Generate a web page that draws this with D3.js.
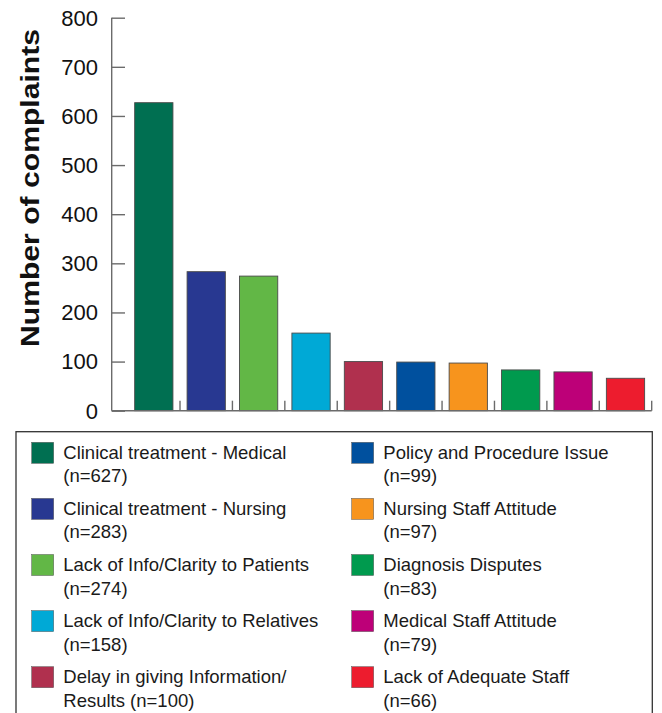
<!DOCTYPE html>
<html>
<head>
<meta charset="utf-8">
<script src="https://cdn.jsdelivr.net/npm/d3@7/dist/d3.min.js"></script>
<style>
  html, body { margin: 0; padding: 0; background: #fff; }
  svg { display: block; font-family: "Liberation Sans", Arial, Helvetica, sans-serif; }
</style>
</head>
<body>
<svg id="chart" width="662" height="713"></svg>
<script>
const categories = [
  "Clinical treatment - Medical",
  "Clinical treatment - Nursing",
  "Lack of Info/Clarity to Patients",
  "Lack of Info/Clarity to Relatives",
  "Delay in giving Information/Results",
  "Policy and Procedure Issue",
  "Nursing Staff Attitude",
  "Diagnosis Disputes",
  "Medical Staff Attitude",
  "Lack of Adequate Staff"
];
const values = [627, 283, 274, 158, 100, 99, 97, 83, 79, 66];
const colors = ["#006F51", "#283891", "#62B746", "#00A9D6", "#B0304E",
                "#00509E", "#F7941D", "#009A4E", "#BD0078", "#ED1C2E"];
const yTicks = [0, 100, 200, 300, 400, 500, 600, 700, 800];
const yTitle = "Number of complaints";

const svg = d3.select("#chart");

const x = d3.scaleBand().domain(categories).range([127.6, 651.7]).padding(0);
const y = d3.scaleLinear().domain([0, 800]).range([410.7, 17.7]);
const axisLeftX = 111.7;
const axisColor = "#6b6b6b";
const barW = x.bandwidth() * 0.73;

// bars
svg.append("g").selectAll("rect").data(categories).join("rect")
  .attr("x", d => x(d) + (x.bandwidth() - barW) / 2)
  .attr("y", (d, i) => y(values[i]))
  .attr("width", barW)
  .attr("height", (d, i) => y(0) - y(values[i]))
  .attr("fill", (d, i) => colors[i])
  .attr("stroke", "#4a4a4a")
  .attr("stroke-width", 0.9);

// y axis (ticks pointing inward)
const yAxis = d3.axisRight(y).tickValues(yTicks).tickSize(13.3).tickFormat("");
const gy = svg.append("g").attr("transform", `translate(${axisLeftX},0)`).call(yAxis);
gy.select(".domain").remove();
gy.selectAll(".tick line").attr("stroke", axisColor).attr("stroke-width", 1.4);
svg.append("line")
  .attr("x1", axisLeftX).attr("x2", axisLeftX)
  .attr("y1", y(800)).attr("y2", y(0))
  .attr("stroke", axisColor).attr("stroke-width", 1.4);
svg.append("g").selectAll("text").data(yTicks).join("text")
  .attr("x", 98)
  .attr("y", d => y(d))
  .attr("dy", "0.36em")
  .attr("text-anchor", "end")
  .attr("font-size", 22)
  .attr("fill", "#111")
  .text(d => d);

// x axis line and boundary ticks
svg.append("line")
  .attr("x1", axisLeftX).attr("x2", x.range()[1])
  .attr("y1", y(0)).attr("y2", y(0))
  .attr("stroke", axisColor).attr("stroke-width", 1.4);
svg.append("g").selectAll("line").data(categories).join("line")
  .attr("x1", d => x(d) + x.bandwidth())
  .attr("x2", d => x(d) + x.bandwidth())
  .attr("y1", y(0)).attr("y2", y(0) - 10)
  .attr("stroke", axisColor).attr("stroke-width", 1.4);

// y title
svg.append("text")
  .attr("transform", "translate(39,188) rotate(-90)")
  .attr("text-anchor", "middle")
  .attr("font-size", 26)
  .attr("font-weight", "bold")
  .attr("fill", "#111")
  .attr("textLength", 318)
  .attr("lengthAdjust", "spacingAndGlyphs")
  .text(yTitle);

// legend
svg.append("rect")
  .attr("x", 16).attr("y", 431.7)
  .attr("width", 636.3).attr("height", 320)
  .attr("fill", "none").attr("stroke", "#333").attr("stroke-width", 1.3);

function legendLines(name, v) {
  if (name.length > 34 && name.indexOf("/") >= 0) {
    const k = name.lastIndexOf("/") + 1;
    return [name.slice(0, k), name.slice(k) + " (n=" + v + ")"];
  }
  return [name, "(n=" + v + ")"];
}

const lg = svg.append("g").selectAll("g").data(categories).join("g")
  .attr("transform", (d, i) => {
    const col = Math.floor(i / 5), row = i % 5;
    return `translate(${col === 0 ? 31.7 : 351.7},${442.3 + row * 56.1})`;
  });
lg.append("rect")
  .attr("width", 22).attr("height", 21)
  .attr("fill", (d, i) => colors[i])
  .attr("stroke", "#555").attr("stroke-width", 0.5);
lg.each(function(d, i) {
  const lines = legendLines(d, values[i]);
  const t = d3.select(this).append("text")
    .attr("x", 31.6)
    .attr("y", 16.5)
    .attr("font-size", 18.5)
    .attr("fill", "#1a1a1a");
  lines.forEach((ln, j) => {
    t.append("tspan").attr("x", 31.6).attr("dy", j === 0 ? 0 : 23.5).text(ln);
  });
});
</script>
</body>
</html>
